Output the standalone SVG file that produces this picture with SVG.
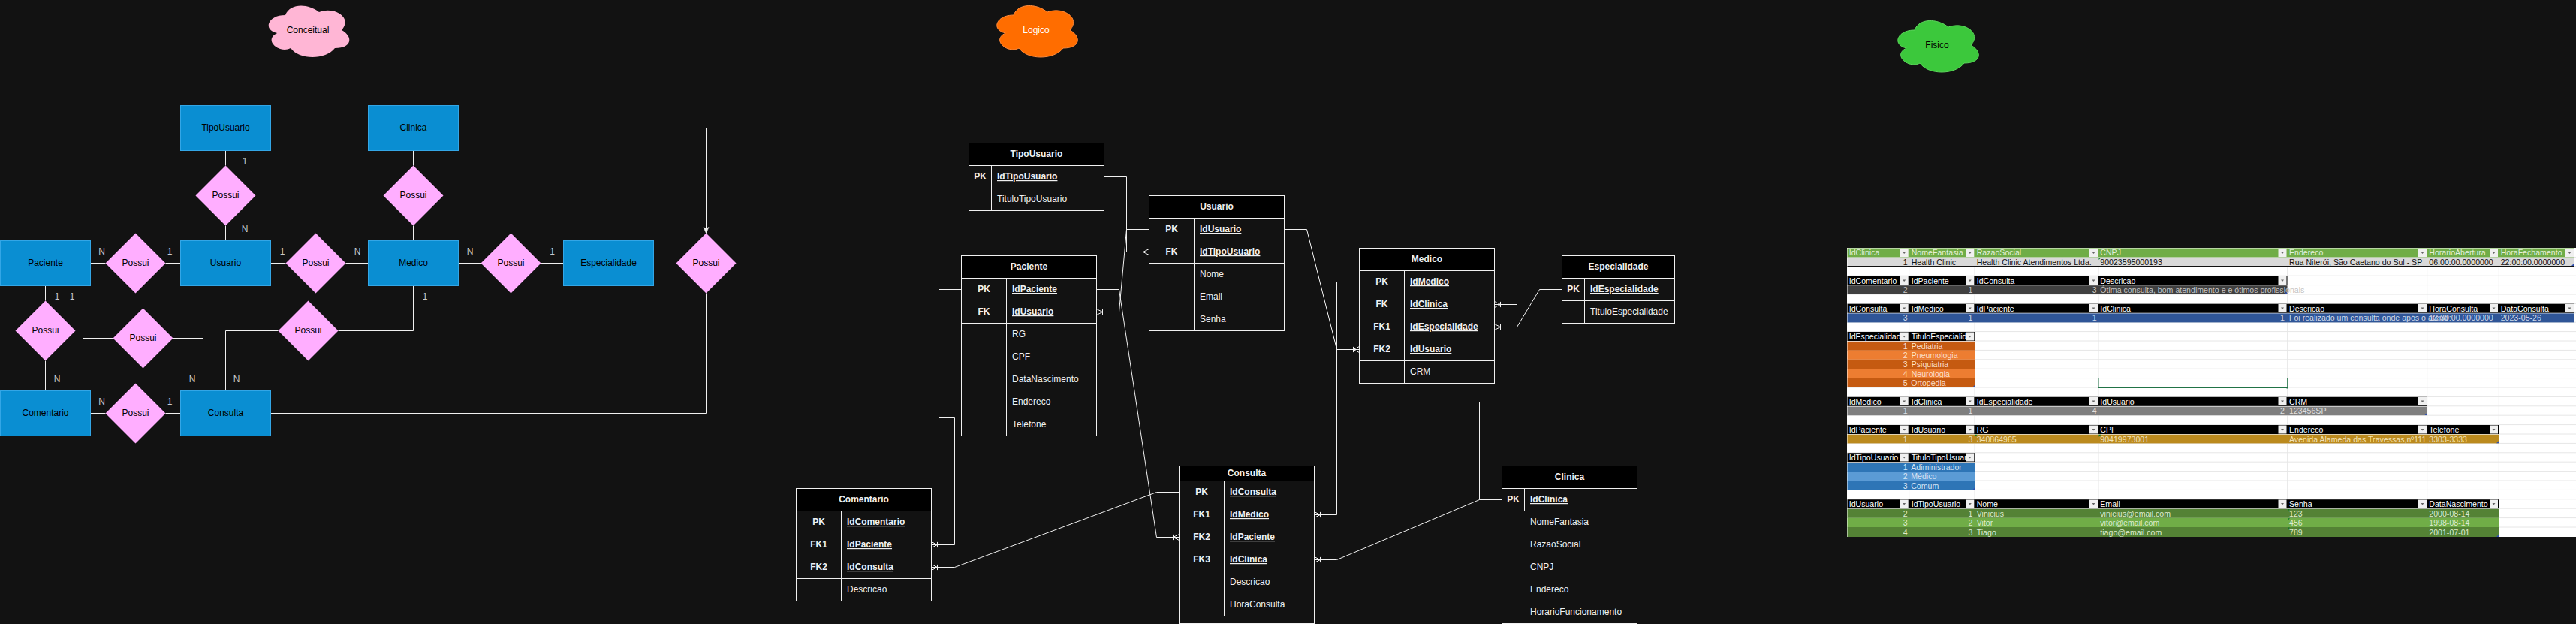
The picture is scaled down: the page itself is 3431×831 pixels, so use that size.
<svg xmlns="http://www.w3.org/2000/svg" width="3431" height="831" viewBox="0 0 3431 831">
<style>
text{font-family:"Liberation Sans",Arial,sans-serif;font-size:12px}
.m{text-anchor:middle}.k{font-weight:bold;text-decoration:underline;fill:#f0f0f0}
.t{fill:#f0f0f0}.tb{fill:#f0f0f0;font-weight:bold}
.d{fill:#000;text-anchor:middle}
.n{fill:#c8c8c8;text-anchor:middle}
.e{fill:#0a8ed2;stroke:#33a6e6}
.r{fill:#ffaeff}
.w{fill:none;stroke:#f0f0f0;stroke-width:1}
.hd{fill:#000;stroke:#f0f0f0}
.x{fill:none;stroke:#f0f0f0;stroke-width:1}
.c{fill:none;stroke:#f0f0f0;marker-end:url(#crow)}
.s text,text.s{font-size:10.6px}
.hw{fill:#fff}.hg{fill:#e2efda}.r2{fill:#1a1a1a}
.rg{text-anchor:end}
.grid{stroke:#e6e6e6;stroke-width:1;fill:none}
</style>
<defs>
<marker id="crow" markerUnits="userSpaceOnUse" markerWidth="14" markerHeight="14" refX="12" refY="7" orient="auto">
<path d="M2 7H12M4 3.4V10.6M4 7L12 3M4 7L12 11" fill="none" stroke="#f0f0f0"/>
</marker>
<marker id="arr" markerUnits="userSpaceOnUse" markerWidth="12" markerHeight="12" refX="9" refY="6" orient="auto">
<path d="M1 2.5L9 6L1 9.5L3 6Z" fill="#f0f0f0" stroke="#f0f0f0" stroke-width=".6"/>
</marker>
<g id="fb"><rect width="11" height="11" fill="#f0f0f0"/><path d="M3.5 4.5h4l-2 2.4z" fill="#666"/></g>
<path id="cloud" d="M30 20C6 20 0 40 19.2 44C0 52.8 21.6 72 37.2 64C48 80 84 80 96 64C120 64 120 48 105 40C120 24 96 8 75 16C60 4 36 4 30 20Z"/>
</defs>
<rect width="3431" height="831" fill="#121212"/>

<g id="connectors-conceitual" class="w">
<path d="M300.5 200.5V220.5M300.5 300.5V320.5M550.5 200.5V220.5M550.5 300.5V320.5M120.5 350.5H140.5M220.5 350.5H240.5M360.5 350.5H380.5M460.5 350.5H490.5M610.5 350.5H640.5M720.5 350.5H750.5M60.5 380.5V400.5M60.5 480.5V520.5M120.5 550.5H140.5M220.5 550.5H240.5"/>
<path d="M110.5 380.5V450.5H150.5M230.5 450.5H270.5V520.5"/>
<path d="M550.5 380.5V440.5H450.5M370.5 440.5H300.5V520.5"/>
<path d="M610.5 170.5H940.5V310.5" marker-end="url(#arr)"/>
<path d="M360.5 550.5H940.5V390.5"/>
</g>
<g id="connectors-logico">
<path class="c" d="M1470.5 235.5H1500.5V335.5H1530.5"/>
<path class="c" d="M1530.5 305.5H1500.5L1490.5 415.5H1460.5"/>
<path class="c" d="M1460.5 385.5H1490.5L1540.5 715.5H1570.5"/>
<path class="c" d="M1280.5 385.5H1250.5V555.5H1271.5V725.5H1240.5"/>
<path class="c" d="M1570.5 655.5H1540.5L1271.5 755.5H1240.5"/>
<path class="c" d="M1710.5 305.5H1740.5L1780.5 465.5H1810.5"/>
<path class="c" d="M1810.5 375.5H1780.5V685.5H1750.5"/>
<path class="c" d="M2000.5 665.5H1970.5V535.5H2020.5V405.5H1990.5"/>
<path class="c" d="M2000.5 665.5H1970.5L1780.5 745.5H1750.5"/>
<path class="c" d="M2080.5 385.5H2050.5L2020.5 435.5H1990.5"/>
</g>

<g id="cloud-conceitual"><use href="#cloud" x="350" y="0" fill="#ffb6d5"/><text class="d" x="410" y="44">Conceitual</text></g>
<g id="cloud-logico"><use href="#cloud" x="1320" y="0" fill="#ff6d00" stroke="#ff8a3a"/><text class="m" x="1380" y="44" fill="#fff">Logico</text></g>
<g id="cloud-fisico"><use href="#cloud" x="2520" y="20" fill="#3cc83c" stroke="#5cd65c"/><text class="d" x="2580" y="64">Fisico</text></g>

<g id="c-tipousuario"><rect class="e" x="240.5" y="140.5" width="120" height="60"/><text class="d" x="300.5" y="174">TipoUsuario</text></g>
<g id="c-clinica"><rect class="e" x="490.5" y="140.5" width="120" height="60"/><text class="d" x="550.5" y="174">Clinica</text></g>
<g id="c-paciente"><rect class="e" x=".5" y="320.5" width="120" height="60"/><text class="d" x="60.5" y="354">Paciente</text></g>
<g id="c-usuario"><rect class="e" x="240.5" y="320.5" width="120" height="60"/><text class="d" x="300.5" y="354">Usuario</text></g>
<g id="c-medico"><rect class="e" x="490.5" y="320.5" width="120" height="60"/><text class="d" x="550.5" y="354">Medico</text></g>
<g id="c-especialidade"><rect class="e" x="750.5" y="320.5" width="120" height="60"/><text class="d" x="810.5" y="354">Especialidade</text></g>
<g id="c-comentario"><rect class="e" x=".5" y="520.5" width="120" height="60"/><text class="d" x="60.5" y="554">Comentario</text></g>
<g id="c-consulta"><rect class="e" x="240.5" y="520.5" width="120" height="60"/><text class="d" x="300.5" y="554">Consulta</text></g>

<g id="r1"><path class="r" d="M300.5 220.5L340.5 260.5L300.5 300.5L260.5 260.5Z"/><text class="d" x="300.5" y="264">Possui</text></g>
<g id="r2"><path class="r" d="M550.5 220.5L590.5 260.5L550.5 300.5L510.5 260.5Z"/><text class="d" x="550.5" y="264">Possui</text></g>
<g id="r3"><path class="r" d="M180.5 310.5L220.5 350.5L180.5 390.5L140.5 350.5Z"/><text class="d" x="180.5" y="354">Possui</text></g>
<g id="r4"><path class="r" d="M420.5 310.5L460.5 350.5L420.5 390.5L380.5 350.5Z"/><text class="d" x="420.5" y="354">Possui</text></g>
<g id="r5"><path class="r" d="M680.5 310.5L720.5 350.5L680.5 390.5L640.5 350.5Z"/><text class="d" x="680.5" y="354">Possui</text></g>
<g id="r6"><path class="r" d="M940.5 310.5L980.5 350.5L940.5 390.5L900.5 350.5Z"/><text class="d" x="940.5" y="354">Possui</text></g>
<g id="r7"><path class="r" d="M60.5 400.5L100.5 440.5L60.5 480.5L20.5 440.5Z"/><text class="d" x="60.5" y="444">Possui</text></g>
<g id="r8"><path class="r" d="M190.5 410.5L230.5 450.5L190.5 490.5L150.5 450.5Z"/><text class="d" x="190.5" y="454">Possui</text></g>
<g id="r9"><path class="r" d="M410.5 400.5L450.5 440.5L410.5 480.5L370.5 440.5Z"/><text class="d" x="410.5" y="444">Possui</text></g>
<g id="r10"><path class="r" d="M180.5 510.5L220.5 550.5L180.5 590.5L140.5 550.5Z"/><text class="d" x="180.5" y="554">Possui</text></g>

<g id="cardinalities">
<text class="n" x="326" y="219">1</text><text class="n" x="326" y="309">N</text>
<text class="n" x="135.500" y="339">N</text><text class="n" x="226" y="339">1</text>
<text class="n" x="376" y="339">1</text><text class="n" x="476" y="339">N</text>
<text class="n" x="626" y="339">N</text><text class="n" x="735.500" y="339">1</text>
<text class="n" x="566" y="399">1</text><text class="n" x="76" y="399">1</text><text class="n" x="96" y="399">1</text>
<text class="n" x="76" y="509">N</text><text class="n" x="256" y="509">N</text><text class="n" x="315" y="509">N</text>
<text class="n" x="135.500" y="539">N</text><text class="n" x="226" y="539">1</text>
</g>

<g id="l-tipousuario">
<rect class="hd" x="1290.5" y="190.5" width="180" height="30"/><rect class="x" x="1290.5" y="220.5" width="180" height="60"/>
<path class="x" d="M1320.5 220.5V280.5M1290.5 250.5H1470.5"/>
<text class="tb m" x="1380.500" y="209">TipoUsuario</text>
<text class="tb m" x="1305.500" y="239">PK</text><text class="k" x="1328" y="239">IdTipoUsuario</text>
<text class="t" x="1328" y="269">TituloTipoUsuario</text>
</g>
<g id="l-usuario">
<rect class="hd" x="1530.5" y="260.5" width="180" height="30"/><rect class="x" x="1530.5" y="290.5" width="180" height="150"/>
<path class="x" d="M1590.500 290.5V440.5M1530.5 350.5H1710.5"/>
<text class="tb m" x="1620.500" y="279">Usuario</text>
<text class="tb m" x="1560.500" y="309">PK</text><text class="k" x="1598" y="309">IdUsuario</text>
<text class="tb m" x="1560.500" y="339">FK</text><text class="k" x="1598" y="339">IdTipoUsuario</text>
<text class="t" x="1598" y="369">Nome</text><text class="t" x="1598" y="399">Email</text><text class="t" x="1598" y="429">Senha</text>
</g>
<g id="l-paciente">
<rect class="hd" x="1280.5" y="340.5" width="180" height="30"/><rect class="x" x="1280.5" y="370.5" width="180" height="210"/>
<path class="x" d="M1340.500 370.5V580.5M1280.5 430.5H1460.5"/>
<text class="tb m" x="1370.500" y="359">Paciente</text>
<text class="tb m" x="1310.500" y="389">PK</text><text class="k" x="1348" y="389">IdPaciente</text>
<text class="tb m" x="1310.500" y="419">FK</text><text class="k" x="1348" y="419">IdUsuario</text>
<text class="t" x="1348" y="449">RG</text><text class="t" x="1348" y="479">CPF</text><text class="t" x="1348" y="509">DataNascimento</text><text class="t" x="1348" y="539">Endereco</text><text class="t" x="1348" y="569">Telefone</text>
</g>
<g id="l-medico">
<rect class="hd" x="1810.5" y="330.5" width="180" height="30"/><rect class="x" x="1810.5" y="360.5" width="180" height="150"/>
<path class="x" d="M1870.500 360.5V510.5M1810.5 480.5H1990.5"/>
<text class="tb m" x="1900.500" y="349">Medico</text>
<text class="tb m" x="1840.500" y="379">PK</text><text class="k" x="1878" y="379">IdMedico</text>
<text class="tb m" x="1840.500" y="409">FK</text><text class="k" x="1878" y="409">IdClinica</text>
<text class="tb m" x="1840.500" y="439">FK1</text><text class="k" x="1878" y="439">IdEspecialidade</text>
<text class="tb m" x="1840.500" y="469">FK2</text><text class="k" x="1878" y="469">IdUsuario</text>
<text class="t" x="1878" y="499">CRM</text>
</g>
<g id="l-especialidade">
<rect class="hd" x="2080.5" y="340.5" width="150" height="30"/><rect class="x" x="2080.5" y="370.5" width="150" height="60"/>
<path class="x" d="M2110.500 370.5V430.5M2080.5 400.5H2230.5"/>
<text class="tb m" x="2155.500" y="359">Especialidade</text>
<text class="tb m" x="2095.500" y="389">PK</text><text class="k" x="2118" y="389">IdEspecialidade</text>
<text class="t" x="2118" y="419">TituloEspecialidade</text>
</g>
<g id="l-comentario">
<rect class="hd" x="1060.5" y="650.5" width="180" height="30"/><rect class="x" x="1060.5" y="680.5" width="180" height="120"/>
<path class="x" d="M1120.500 680.5V800.5M1060.5 770.5H1240.5"/>
<text class="tb m" x="1150.500" y="669">Comentario</text>
<text class="tb m" x="1090.500" y="699">PK</text><text class="k" x="1128" y="699">IdComentario</text>
<text class="tb m" x="1090.500" y="729">FK1</text><text class="k" x="1128" y="729">IdPaciente</text>
<text class="tb m" x="1090.500" y="759">FK2</text><text class="k" x="1128" y="759">IdConsulta</text>
<text class="t" x="1128" y="789">Descricao</text>
</g>
<g id="l-consulta">
<rect class="hd" x="1570.5" y="620.5" width="180" height="20"/><rect class="x" x="1570.5" y="640.5" width="180" height="190"/>
<path class="x" d="M1630.500 640.5V820.5M1570.5 760.5H1750.5"/>
<text class="tb m" x="1660.500" y="634">Consulta</text>
<text class="tb m" x="1600.500" y="659">PK</text><text class="k" x="1638" y="659">IdConsulta</text>
<text class="tb m" x="1600.500" y="689">FK1</text><text class="k" x="1638" y="689">IdMedico</text>
<text class="tb m" x="1600.500" y="719">FK2</text><text class="k" x="1638" y="719">IdPaciente</text>
<text class="tb m" x="1600.500" y="749">FK3</text><text class="k" x="1638" y="749">IdClinica</text>
<text class="t" x="1638" y="779">Descricao</text><text class="t" x="1638" y="809">HoraConsulta</text>
</g>
<g id="l-clinica">
<rect class="hd" x="2000.5" y="620.5" width="180" height="30"/><rect class="x" x="2000.5" y="650.5" width="180" height="180"/>
<path class="x" d="M2030.500 650.5V680.5M2000.5 680.5H2180.5"/>
<text class="tb m" x="2090.500" y="639">Clinica</text>
<text class="tb m" x="2015.500" y="669">PK</text><text class="k" x="2038" y="669">IdClinica</text>
<text class="t" x="2038" y="699">NomeFantasia</text><text class="t" x="2038" y="729">RazaoSocial</text><text class="t" x="2038" y="759">CNPJ</text><text class="t" x="2038" y="789">Endereco</text><text class="t" x="2038" y="819">HorarioFuncionamento</text>
</g>

<g id="fisico" class="s">
<rect x="2460" y="330" width="971" height="385" fill="#fff"/>
<path class="grid" d="M2542.700 330V715M2630 330V715M2795 330V715M3046.700 330V715M3232.700 330V715M3328.300 330V715M2460 342.400H3431M2460 354.800H3431M2460 367.200H3431M2460 379.600H3431M2460 392H3431M2460 404.400H3431M2460 416.800H3431M2460 429.200H3431M2460 441.600H3431M2460 454H3431M2460 466.400H3431M2460 478.800H3431M2460 491.200H3431M2460 503.600H3431M2460 516H3431M2460 528.400H3431M2460 540.800H3431M2460 553.200H3431M2460 565.600H3431M2460 578H3431M2460 590.400H3431M2460 602.800H3431M2460 615.200H3431M2460 627.600H3431M2460 640H3431M2460 652.400H3431M2460 664.800H3431M2460 677.200H3431M2460 689.600H3431M2460 702H3431"/>

<g id="t-clinica">
<rect x="2460.500" y="330.500" width="968" height="12" fill="#70ad47"/>
<rect x="2460.500" y="342.800" width="968" height="11.600" fill="#d9d9d9"/><rect x="2460.500" y="354" width="968" height="1" fill="#111"/>
<use href="#fb" x="2530.700" y="331"/><use href="#fb" x="2618.300" y="331"/><use href="#fb" x="2783" y="331"/><use href="#fb" x="3034.500" y="331"/><use href="#fb" x="3221" y="331"/><use href="#fb" x="3316" y="331"/><use href="#fb" x="3417" y="331"/>
<g class="hg"><text x="2462.700" y="340.300">IdClinica</text><text x="2545.700" y="340.300">NomeFantasia</text><text x="2632.700" y="340.300">RazaoSocial</text><text x="2797.300" y="340.300">CNPJ</text><text x="3049" y="340.300">Endereco</text><text x="3235.300" y="340.300">HorarioAbertura</text><text x="3330.700" y="340.300">HoraFechamento</text></g>
<g fill="#111"><text class="rg" x="2540.700" y="352.600">1</text><text x="2545.700" y="352.600">Health Clinic</text><text x="2632.700" y="352.600">Health Clinic Atendimentos Ltda.</text><text x="2797.300" y="352.600">90023595000193</text><text x="3049" y="352.600">Rua Niterói, São Caetano do Sul - SP</text><text x="3235.300" y="352.600">06:00:00.0000000</text><text x="3330.700" y="352.600">22:00:00.0000000</text></g>
<path d="M2795.500 343h3l-3 3z" fill="#0a7a2a"/><path d="M3428 354v-3l-3 3z" fill="#3050b0"/>
</g>

<g id="t-comentario">
<rect x="2460.500" y="367.600" width="586" height="12" fill="#000"/><rect x="2460.500" y="380.200" width="586" height="11.800" fill="#404040"/>
<use href="#fb" x="2530.700" y="368"/><use href="#fb" x="2618.300" y="368"/><use href="#fb" x="2783" y="368"/><use href="#fb" x="3034.500" y="368"/>
<g class="hw"><text x="2462.700" y="377.500">IdComentario</text><text x="2545.700" y="377.500">IdPaciente</text><text x="2632.700" y="377.500">IdConsulta</text><text x="2797.300" y="377.500">Descricao</text></g>
<g fill="#c4c4c4"><text class="rg" x="2540.700" y="390">2</text><text class="rg" x="2627.300" y="390">1</text><text class="rg" x="2792.700" y="390">3</text><text x="2797.300" y="390">Ótima consulta, bom atendimento e e ótimos profissionais</text></g>
<path d="M3046 391.500v-3l-3 3z" fill="#3050b0"/>
</g>

<g id="t-consulta">
<rect x="2460.500" y="404.700" width="968" height="12" fill="#000"/><rect x="2460.500" y="417.400" width="968" height="12" fill="#2f5597"/>
<use href="#fb" x="2530.700" y="405"/><use href="#fb" x="2618.300" y="405"/><use href="#fb" x="2783" y="405"/><use href="#fb" x="3034.500" y="405"/><use href="#fb" x="3221" y="405"/><use href="#fb" x="3316" y="405"/><use href="#fb" x="3417" y="405"/>
<g class="hw"><text x="2462.700" y="414.800">IdConsulta</text><text x="2545.700" y="414.800">IdMedico</text><text x="2632.700" y="414.800">IdPaciente</text><text x="2797.300" y="414.800">IdClinica</text><text x="3049" y="414.800">Descricao</text><text x="3235.300" y="414.800">HoraConsulta</text><text x="3330.700" y="414.800">DataConsulta</text></g>
<g fill="#d0d9ea"><text class="rg" x="2540.700" y="427.200">3</text><text class="rg" x="2627.300" y="427.200">1</text><text class="rg" x="2792.700" y="427.200">1</text><text class="rg" x="3043" y="427.200">1</text><text x="3049" y="427.200">Foi realizado um consulta onde após o atend</text><text x="3235.300" y="427.200">13:30:00.0000000</text><text x="3330.700" y="427.200">2023-05-26</text></g>
</g>

<g id="t-especialidade">
<rect x="2460.500" y="442" width="169.500" height="12" fill="#000"/>
<rect x="2460.500" y="454.800" width="169.500" height="12" fill="#c55a11"/><rect x="2460.500" y="466.600" width="169.500" height="12.200" fill="#ed7d31"/><rect x="2460.500" y="478.800" width="169.500" height="12.400" fill="#c55a11"/><rect x="2460.500" y="491.200" width="169.500" height="12.400" fill="#ed7d31"/><rect x="2460.500" y="503.600" width="169.500" height="12.400" fill="#c55a11"/>
<use href="#fb" x="2530.700" y="442.500"/><use href="#fb" x="2618.300" y="442.500"/>
<g class="hw"><text x="2462.700" y="452">IdEspecialidad</text><text x="2545.700" y="452">TituloEspecialid</text></g>
<g fill="#fbdfc9"><text class="rg" x="2540.700" y="464.500">1</text><text x="2545.700" y="464.500">Pediatria</text><text class="rg" x="2540.700" y="476.900">2</text><text x="2545.700" y="476.900">Pneumologia</text><text class="rg" x="2540.700" y="489.300">3</text><text x="2545.700" y="489.300">Psiquiatria</text><text class="rg" x="2540.700" y="501.700">4</text><text x="2545.700" y="501.700">Neurologia</text><text class="rg" x="2540.700" y="514.100">5</text><text x="2545.200" y="514.100">Ortopedia</text></g>
<path d="M2630 516v-3l-3 3z" fill="#3050b0"/>
</g>
<rect id="selected-cell" x="2795" y="503.500" width="251.700" height="13" fill="none" stroke="#217346"/><rect x="3045.500" y="515" width="2.500" height="2.500" fill="#217346"/>

<g id="t-medico">
<rect x="2460.500" y="528.800" width="772" height="12" fill="#000"/><rect x="2460.500" y="541.600" width="772" height="11.600" fill="#7f7f7f"/>
<use href="#fb" x="2530.700" y="529"/><use href="#fb" x="2618.300" y="529"/><use href="#fb" x="2783" y="529"/><use href="#fb" x="3034.500" y="529"/><use href="#fb" x="3221" y="529"/>
<g class="hw"><text x="2462.700" y="538.800">IdMedico</text><text x="2545.700" y="538.800">IdClinica</text><text x="2632.700" y="538.800">IdEspecialidade</text><text x="2797.300" y="538.800">IdUsuario</text><text x="3049" y="538.800">CRM</text></g>
<g fill="#e0e0e0"><text class="rg" x="2540.700" y="551.200">1</text><text class="rg" x="2627.300" y="551.200">1</text><text class="rg" x="2792.700" y="551.200">4</text><text class="rg" x="3043" y="551.200">2</text><text x="3049" y="551.200">123456SP</text></g>
<path d="M3232.500 553v-3l-3 3z" fill="#3050b0"/>
</g>

<g id="t-paciente">
<rect x="2460.500" y="566" width="868" height="12" fill="#000"/><rect x="2460.500" y="578.700" width="868" height="11.700" fill="#bb8a1e"/>
<use href="#fb" x="2530.700" y="566.500"/><use href="#fb" x="2618.300" y="566.500"/><use href="#fb" x="2783" y="566.500"/><use href="#fb" x="3034.500" y="566.500"/><use href="#fb" x="3221" y="566.500"/><use href="#fb" x="3316" y="566.500"/>
<g class="hw"><text x="2462.700" y="576.200">IdPaciente</text><text x="2545.700" y="576.200">IdUsuario</text><text x="2632.700" y="576.200">RG</text><text x="2797.300" y="576.200">CPF</text><text x="3049" y="576.200">Endereco</text><text x="3235.300" y="576.200">Telefone</text></g>
<g fill="#f3e3b8"><text class="rg" x="2540.700" y="588.600">1</text><text class="rg" x="2627.300" y="588.600">3</text><text x="2632.700" y="588.600">340864965</text><text x="2797.300" y="588.600">90419973001</text><text x="3049" y="588.600">Avenida Alameda das Travessas,nº111</text><text x="3235.300" y="588.600">3303-3333</text></g>
<path d="M2630.500 578.700h3l-3 3zM2795.500 578.700h3l-3 3z" fill="#0a7a2a"/><path d="M3328 590.300v-3l-3 3z" fill="#3050b0"/>
</g>

<g id="t-tipousuario">
<rect x="2460.500" y="603.200" width="169.500" height="12" fill="#000"/>
<rect x="2460.500" y="616" width="169.500" height="12" fill="#2e75b6"/><rect x="2460.500" y="628" width="169.500" height="12" fill="#5b9bd5"/><rect x="2460.500" y="640" width="169.500" height="12.600" fill="#2e75b6"/>
<use href="#fb" x="2530.700" y="603.500"/><use href="#fb" x="2618.300" y="603.500"/>
<g class="hw"><text x="2462.700" y="613.300">IdTipoUsuario</text><text x="2545.700" y="613.300">TituloTipoUsuar</text></g>
<g fill="#d5e5f5"><text class="rg" x="2540.700" y="625.700">1</text><text x="2545.200" y="625.700">Adiministrador</text><text class="rg" x="2540.700" y="638.100">2</text><text x="2545.200" y="638.100">Médico</text><text class="rg" x="2540.700" y="650.500">3</text><text x="2545.200" y="650.500">Comum</text></g>
<path d="M2630 652.500v-3l-3 3z" fill="#3050b0"/>
</g>

<g id="t-usuario">
<rect x="2460.500" y="665.200" width="868" height="12" fill="#000"/>
<rect x="2460.500" y="677.800" width="868" height="12" fill="#548235"/><rect x="2460.500" y="689.800" width="868" height="12.200" fill="#70ad47"/><rect x="2460.500" y="702" width="868" height="13" fill="#548235"/>
<use href="#fb" x="2530.700" y="665.500"/><use href="#fb" x="2618.300" y="665.500"/><use href="#fb" x="2783" y="665.500"/><use href="#fb" x="3034.500" y="665.500"/><use href="#fb" x="3221" y="665.500"/><use href="#fb" x="3316" y="665.500"/>
<g class="hw"><text x="2462.700" y="675.300">IdUsuario</text><text x="2545.700" y="675.300">IdTipoUsuario</text><text x="2632.700" y="675.300">Nome</text><text x="2797.300" y="675.300">Email</text><text x="3049" y="675.300">Senha</text><text x="3235.300" y="675.300">DataNascimento</text></g>
<g fill="#dcebcf"><text class="rg" x="2540.700" y="687.700">2</text><text class="rg" x="2627.300" y="687.700">1</text><text x="2632.700" y="687.700">Vinicius</text><text x="2797.300" y="687.700">vinicius@email.com</text><text x="3049" y="687.700">123</text><text x="3235.300" y="687.700">2000-08-14</text>
<text class="rg" x="2540.700" y="700.100">3</text><text class="rg" x="2627.300" y="700.100">2</text><text x="2632.700" y="700.100">Vitor</text><text x="2797.300" y="700.100">vitor@email.com</text><text x="3049" y="700.100">456</text><text x="3235.300" y="700.100">1998-08-14</text>
<text class="rg" x="2540.700" y="712.500">4</text><text class="rg" x="2627.300" y="712.500">3</text><text x="2632.700" y="712.500">Tiago</text><text x="2797.300" y="712.500">tiago@email.com</text><text x="3049" y="712.500">789</text><text x="3235.300" y="712.500">2001-07-01</text></g>
<path d="M3047 678h3l-3 3zM3047 690.300h3l-3 3zM3047 702.500h3l-3 3z" fill="#0a7a2a"/><path d="M3328 715v-3l-3 3z" fill="#3050b0"/>
</g>
</g>
</svg>
